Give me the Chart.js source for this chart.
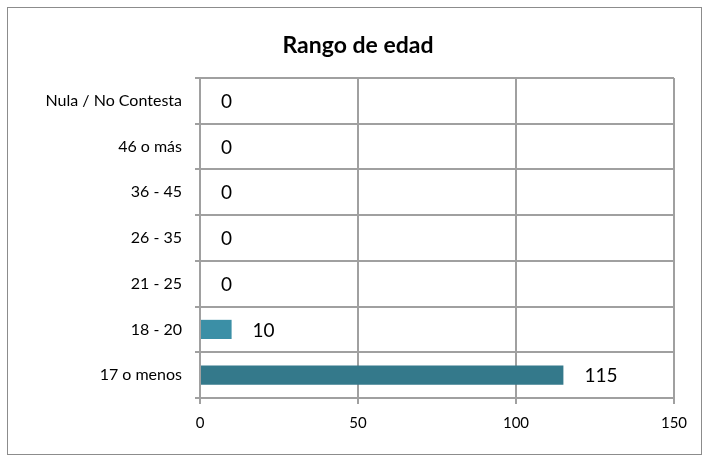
<!DOCTYPE html>
<html>
<head>
<meta charset="utf-8">
<script src="https://cdn.jsdelivr.net/npm/chart.js@4"></script>
<style>
  body { margin: 0; background: #fff; }
  #wrap { width: 708px; height: 463px; }
</style>
</head>
<body>
<div id="wrap"><canvas id="ageChart" width="708" height="463"></canvas></div>
<script>
const categories = ['Nula / No Contesta', '46 o más', '36 - 45', '26 - 35', '21 - 25', '18 - 20', '17 o menos'];
const counts = [0, 0, 0, 0, 0, 10, 115];
const barColors = ['#3b8fa6', '#3b8fa6', '#3b8fa6', '#3b8fa6', '#3b8fa6', '#3b8fa6', '#34798b'];
const xTicks = [0, 50, 100, 150];

const gridGray = '#a0a0a0';

// frame, title and value labels
const decor = {
  id: 'decor',
  beforeDraw(chart) {
    const c = chart.ctx;
    c.save();
    c.fillStyle = '#fff';
    c.fillRect(0, 0, chart.width, chart.height);
    c.strokeStyle = '#8c8c8c';
    c.lineWidth = 1;
    c.strokeRect(7.5, 7.5, 694, 447);
    c.restore();
  },
  afterDatasetsDraw(chart) {
    const c = chart.ctx;
    const meta = chart.getDatasetMeta(0);
    c.save();
    c.fillStyle = '#000';
    c.font = 'bold 23px Lato';
    c.textAlign = 'center';
    c.textBaseline = 'middle';
    c.fillText('Rango de edad', 358, 46);
    c.font = '19px Lato';
    c.textAlign = 'left';
    meta.data.forEach((bar, i) => {
      c.fillText(String(counts[i]), bar.x + 21, bar.y + 1);
    });
    c.restore();
  }
};

new Chart(document.getElementById('ageChart'), {
  type: 'bar',
  data: {
    labels: categories,
    datasets: [{
      data: counts,
      backgroundColor: barColors,
      barPercentage: 0.42,
      categoryPercentage: 1
    }]
  },
  options: {
    indexAxis: 'y',
    responsive: false,
    animation: false,
    layout: { padding: { left: 10, right: 34, top: 78, bottom: 25 } },
    scales: {
      x: {
        min: 0,
        max: 150,
        afterBuildTicks(scale) { scale.ticks = xTicks.map(v => ({ value: v })); },
        afterFit(scale) { scale.height = 40; },
        grid: { color: gridGray, tickLength: 6, lineWidth: 2 },
        border: { color: gridGray, width: 2 },
        ticks: { color: '#000', font: { family: 'Lato', size: 15 }, padding: 10 }
      },
      y: {
        afterFit(scale) { scale.width = 190; },
        grid: { color: gridGray, tickLength: 5, lineWidth: 2, offset: true },
        border: { color: gridGray, width: 2 },
        ticks: { color: '#000', font: { family: 'Lato', size: 16 }, padding: 13 }
      }
    },
    plugins: {
      legend: { display: false },
      title: { display: false },
      tooltip: { enabled: false }
    }
  },
  plugins: [decor]
});
</script>
</body>
</html>
